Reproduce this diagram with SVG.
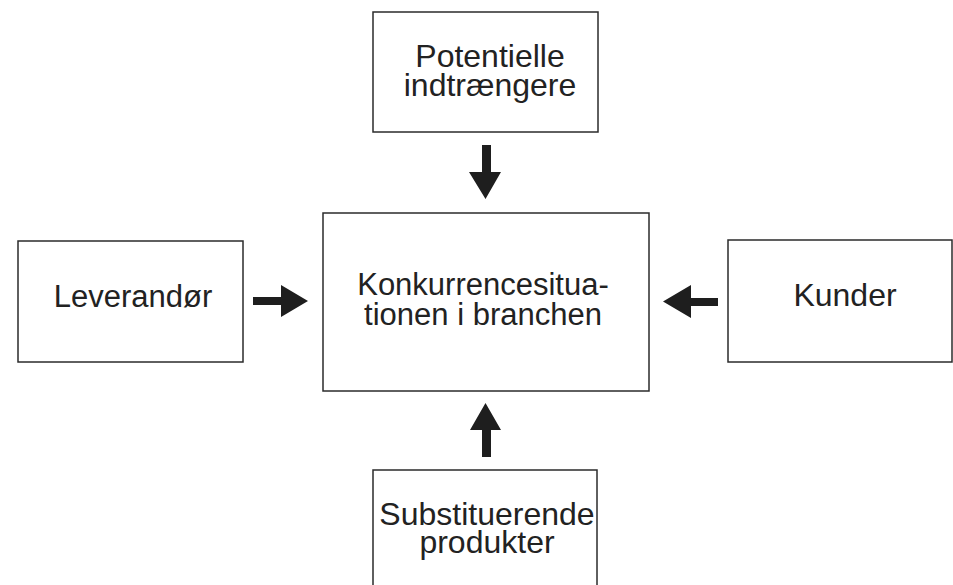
<svg xmlns="http://www.w3.org/2000/svg" width="953" height="585" viewBox="0 0 953 585">
<style>
.box{fill:#fff;stroke:#2b2b2b;stroke-width:1.5}
.t{font-family:"Liberation Sans",Arial,sans-serif;font-size:32px;fill:#222;text-anchor:middle}
.arr{fill:#1e1e1e}
</style>
<rect width="953" height="585" fill="#fff"/>
<g id="potentielle">
<rect class="box" x="373" y="12" width="225" height="120"/>
<text class="t" x="490" y="67">Potentielle</text>
<text class="t" x="490" y="96">indtrængere</text>
</g>
<g id="konkurrence">
<rect class="box" x="323" y="213" width="326" height="178"/>
<text class="t" x="483" y="295" style="font-size:31px">Konkurrencesitua-</text>
<text class="t" x="483" y="325" style="font-size:31px">tionen i branchen</text>
</g>
<g id="leverandor">
<rect class="box" x="18" y="241" width="225" height="121"/>
<text class="t" x="133" y="307" style="font-size:31px">Leverandør</text>
</g>
<g id="kunder">
<rect class="box" x="728" y="240" width="224" height="122"/>
<text class="t" x="845" y="306">Kunder</text>
</g>
<g id="substituerende">
<rect class="box" x="373" y="470" width="224" height="130"/>
<text class="t" x="487" y="525">Substituerende</text>
<text class="t" x="487" y="553">produkter</text>
</g>
<g id="connectors">
<polygon class="arr" points="482,145 491,145 491,172 501,172 485.5,199 469,172 482,172"/>
<polygon class="arr" points="482,457 491,457 491,430 501,430 485.5,403 470,430 482,430"/>
<polygon class="arr" points="253,297 281,297 281,285 308,301 281,317 281,305 253,305"/>
<polygon class="arr" points="718,298 691,298 691,285 663,301.5 691,318 691,306 718,306"/>
</g>
</svg>
